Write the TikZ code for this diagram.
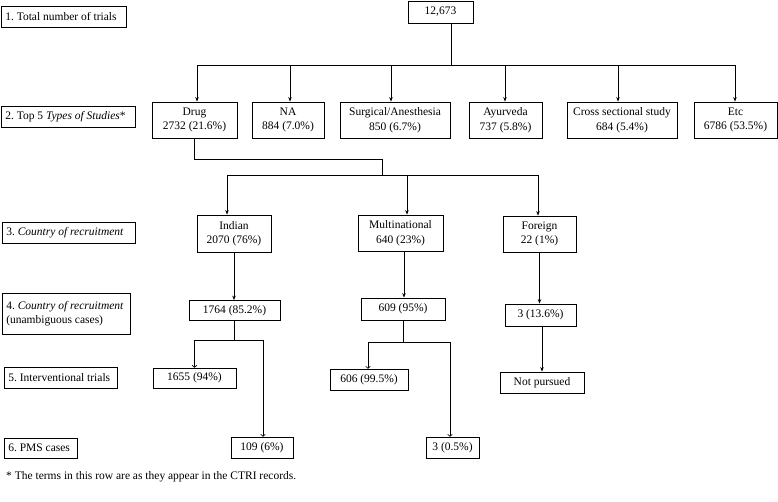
\documentclass[tikz,border=0pt]{standalone}
\usepackage{fontspec}
\setmainfont{Liberation Serif}
\frenchspacing
\usetikzlibrary{arrows.meta}
\tikzset{
  box/.style={draw, line width=0.8pt, inner sep=0pt, align=center, font=\fontsize{11.5}{14.5}\selectfont},
  lab/.style={draw, line width=0.8pt, inner sep=0pt},
  labtxt/.style={anchor=west, inner sep=0pt, align=left, font=\fontsize{11.5}{14.5}\selectfont},
  ln/.style={line width=0.7pt},
  arr/.style={ln, -{Stealth[length=4.5pt,width=3.5pt]}},
  oarr/.style={ln, -{To[length=2.5pt,width=5pt]}}
}
\newcommand{\bx}[6]{\node[box, minimum width=#4pt, minimum height=#5pt] (#1) at (#2,#3) {#6};}
\newcommand{\lb}[6]{\node[lab, minimum width=#4pt, minimum height=#5pt] (#1) at (#2,#3) {};
  \node[labtxt] (#1t) at ([xshift=4.5pt]#1.west) {#6};}
\begin{document}
\begin{tikzpicture}[x=1pt,y=-1pt]
\useasboundingbox (0,0) rectangle (778,501);
% left labels
\lb{l1}{63.5}{16.5}{125}{21}{1. Total number of trials}
\lb{l2}{68}{116.5}{134}{21}{2. Top 5 \textit{Types of Studies}*}
\lb{l3}{68.5}{232.5}{133}{21}{3. \textit{Country of recruitment}}
\lb{l4}{66}{313.5}{128}{41}{4. \textit{Country of recruitment}\\(unambiguous cases)}
\lb{l5}{60.5}{377.5}{113}{21}{5. Interventional trials}
\lb{l6}{40.5}{448}{73}{20}{6. PMS cases}
\node[anchor=west, inner sep=0pt, font=\fontsize{11.5}{14.5}\selectfont] (foot) at (6,477) {* The terms in this row are as they appear in the CTRI records.};
% top
\bx{total}{440.5}{12}{65}{22}{12,673}
% row 2
\bx{drug}{194.5}{120}{85}{36}{Drug\\2732 (21.6\%)}
\bx{na}{288}{120}{72}{36}{NA\\884 (7.0\%)}
\bx{surg}{395}{120}{110}{36}{Surgical/Anesthesia\\850 (6.7\%)}
\bx{ayur}{505.5}{120}{73}{36}{Ayurveda\\737 (5.8\%)}
\bx{cross}{622}{120}{110}{36}{Cross sectional study\\684 (5.4\%)}
\bx{etc}{735.5}{120}{83}{36}{Etc\\6786 (53.5\%)}
% row 3
\bx{ind}{234}{233.5}{74}{37}{Indian\\2070 (76\%)}
\bx{multi}{400.5}{233}{85}{36}{Multinational\\640 (23\%)}
\bx{foreign}{539.5}{234}{73}{36}{Foreign\\22 (1\%)}
% row 4
\bx{ind4}{234.5}{310.5}{91}{20}{1764 (85.2\%)}
\bx{multi4}{403}{309}{84}{22}{609 (95\%)}
\bx{for4}{540.5}{315}{71}{22}{3 (13.6\%)}
% row 5
\bx{ind5}{194.5}{378}{83}{20}{1655 (94\%)}
\bx{multi5}{369}{379.5}{78}{21}{606 (99.5\%)}
\bx{for5}{542}{382.5}{84}{21}{Not pursued}
% row 6
\bx{ind6}{262}{447.5}{62}{21}{109 (6\%)}
\bx{multi6}{452.5}{447.5}{53}{21}{3 (0.5\%)}
% connectors: total -> row 2
\coordinate (t0) at (451,23);
\coordinate (t1) at (451,65);
\draw[ln] (t0) -- (t1);
\draw[ln] (197,65) -- (736,65);
\draw[arr] (197,65) -- (drug.north -| 197,0);
\draw[arr] (290,65) -- (na.north -| 290,0);
\draw[arr] (391,65) -- (surg.north -| 391,0);
\draw[arr] (505,65) -- (ayur.north -| 505,0);
\draw[arr] (618,65) -- (cross.north -| 618,0);
\draw[arr] (735,65) -- (etc.north -| 735,0);
% drug -> row 3
\draw[ln] (drug.south) -- (194.5,159) -- (382,159) -- (382,175);
\draw[ln] (227,175) -- (538,175);
\draw[arr] (227,175) -- (ind.north -| 227,0);
\draw[arr] (407,175) -- (multi.north -| 407,0);
\draw[arr] (538,175) -- (foreign.north -| 538,0);
% row 3 -> row 4
\draw[arr] (ind.south) -- (ind4.north -| ind.south);
\draw[arr] (multi.south -| 404,0) -- (multi4.north -| 404,0);
\draw[arr] (foreign.south) -- (for4.north -| foreign.south);
% row 4 -> row 5/6
\draw[ln] (ind4.south) -- (234.5,340);
\draw[ln] (194.5,340) -- (263,340);
\draw[oarr] (194.5,340) -- (ind5.north);
\draw[oarr] (263,340) -- (ind6.north -| 263,0);
\draw[ln] (multi4.south) -- (403,342);
\draw[ln] (368,342) -- (450,342);
\draw[oarr] (368,342) -- (multi5.north -| 368,0);
\draw[oarr] (450,342) -- (multi6.north -| 450,0);
\draw[arr] (for4.south -| 542,0) -- (for5.north);
\end{tikzpicture}
\end{document}
